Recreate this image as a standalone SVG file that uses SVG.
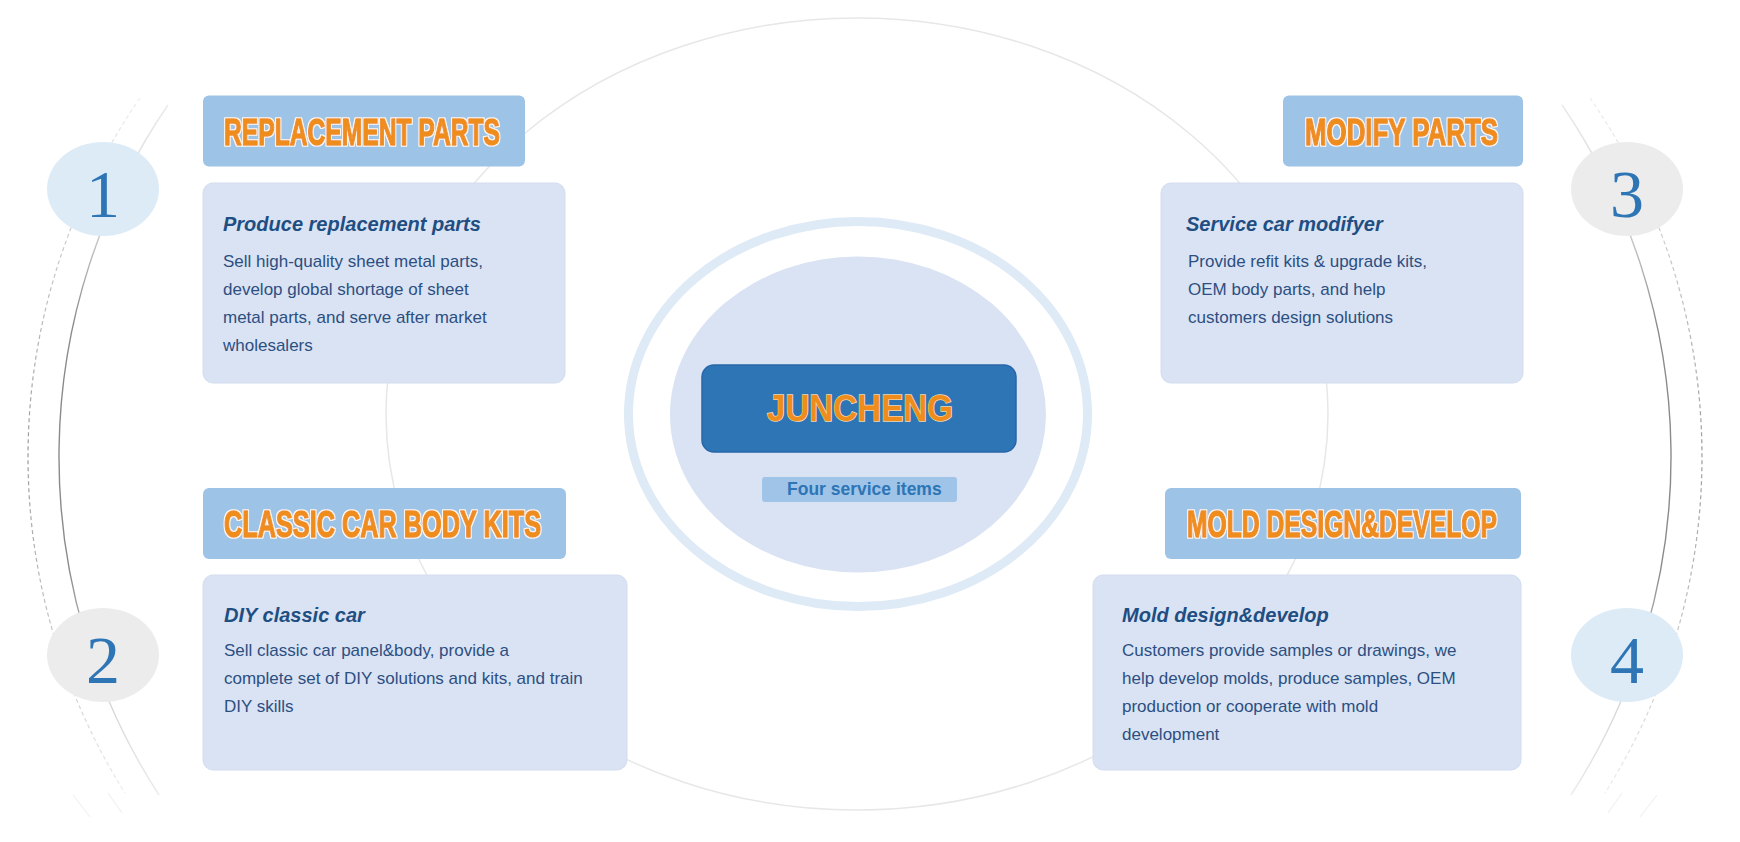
<svg xmlns="http://www.w3.org/2000/svg" width="1740" height="842" viewBox="0 0 1740 842">
<defs>
<linearGradient id="solidGrad" gradientUnits="userSpaceOnUse" x1="0" y1="95" x2="0" y2="810">
<stop offset="0" stop-color="#ececec"/>
<stop offset="0.18" stop-color="#d2d2d2"/>
<stop offset="0.32" stop-color="#8a8a8a"/>
<stop offset="0.66" stop-color="#8a8a8a"/>
<stop offset="0.82" stop-color="#cfcfcf"/>
<stop offset="1" stop-color="#efefef"/>
</linearGradient>
<linearGradient id="dashGrad" gradientUnits="userSpaceOnUse" x1="0" y1="95" x2="0" y2="810">
<stop offset="0" stop-color="#eeeeee"/>
<stop offset="0.25" stop-color="#c4c4c4"/>
<stop offset="0.5" stop-color="#9a9a9a"/>
<stop offset="0.75" stop-color="#c4c4c4"/>
<stop offset="1" stop-color="#f0f0f0"/>
</linearGradient>
<filter id="outline" x="-5%" y="-25%" width="110%" height="150%">
<feMorphology in="SourceAlpha" operator="dilate" radius="1.3" result="d"/>
<feFlood flood-color="#fff6ea"/>
<feComposite in2="d" operator="in" result="o"/>
<feMerge><feMergeNode in="o"/><feMergeNode in="SourceGraphic"/></feMerge>
</filter>
</defs>
<style>
.hdr{fill:#9dc3e6}
.card{fill:#dae3f3;stroke:#d2ddef;stroke-width:1}
.htxt{font-family:"Liberation Sans",Arial,sans-serif;font-weight:bold;font-size:37px;fill:#ef8d1c;stroke:#ef8d1c;stroke-width:1.4;stroke-linejoin:round;filter:url(#outline)}
.ttl{font-family:"Liberation Sans",Arial,sans-serif;font-weight:bold;font-style:italic;font-size:20px;fill:#1f4e82}
.body{font-family:"Liberation Sans",Arial,sans-serif;font-size:17px;fill:#2c4f82}
.num{font-family:"Liberation Serif","Times New Roman",serif;font-size:68px;fill:#2e75b6;text-anchor:middle}
.solid{fill:none;stroke:url(#solidGrad);stroke-width:1.4}
.dash{fill:none;stroke:url(#dashGrad);stroke-width:1.2;stroke-dasharray:4 3}
.faint{fill:none;stroke:#f1f1f1;stroke-width:1.2}
.blue{fill:#ddebf7}
.gray{fill:#ececec}
</style>
<rect width="1740" height="842" fill="#ffffff"/>

<g id="connectors">
<ellipse cx="857" cy="414" rx="471" ry="396" fill="none" stroke="#e7e7e7" stroke-width="1.5"/>
<path class="dash" d="M140,98 A631,631 0 0 0 125,793"/>
<path class="dash" d="M1590,98 A631,631 0 0 1 1605,793"/>
<path class="solid" d="M168,105 A622,622 0 0 0 159,795"/>
<path class="solid" d="M1562,105 A622,622 0 0 1 1571,795"/>
<path class="faint" d="M73,795 L90,817 M108,793 L122,813"/>
<path class="faint" d="M1657,795 L1640,817 M1622,793 L1608,813"/>
</g>

<g id="center">
<ellipse cx="858" cy="414" rx="229.5" ry="192.5" fill="none" stroke="#deeaf6" stroke-width="9"/>
<ellipse cx="858" cy="414.5" rx="188" ry="158" fill="#d9e3f3"/>
<rect x="702" y="365" width="314" height="87" rx="12" fill="#2e75b6" stroke="#2766a8" stroke-width="1.5"/>
<text x="860" y="421" text-anchor="middle" textLength="186" lengthAdjust="spacingAndGlyphs" style="font-family:'Liberation Sans',Arial,sans-serif;font-weight:bold;font-size:36px;fill:#ef8d1c;stroke:#f6d9b0;stroke-width:1.5;paint-order:stroke">JUNCHENG</text>
<rect x="762" y="477" width="195" height="25" rx="3" fill="#9fc4e8"/>
<text x="787" y="495" style="font-family:'Liberation Sans',Arial,sans-serif;font-weight:bold;font-size:17.5px;fill:#2e75b6">Four service items</text>
</g>

<g id="item1">
<ellipse class="blue" cx="103" cy="189" rx="56" ry="47"/>
<text class="num" x="103" y="217">1</text>
<rect class="hdr" x="203" y="95.5" width="322" height="71" rx="6"/>
<text class="htxt" x="224" y="145" textLength="276" lengthAdjust="spacingAndGlyphs">REPLACEMENT PARTS</text>
<rect class="card" x="203" y="183" width="362" height="200" rx="10"/>
<text class="ttl" x="223" y="231">Produce replacement parts</text>
<text class="body" x="223" y="267">Sell high-quality sheet metal parts,</text>
<text class="body" x="223" y="295">develop global shortage of sheet</text>
<text class="body" x="223" y="323">metal parts, and serve after market</text>
<text class="body" x="223" y="351">wholesalers</text>
</g>

<g id="item2">
<ellipse class="gray" cx="103" cy="655" rx="56" ry="47"/>
<text class="num" x="103" y="683">2</text>
<rect class="hdr" x="203" y="488" width="363" height="71" rx="6"/>
<text class="htxt" x="224" y="537" textLength="317" lengthAdjust="spacingAndGlyphs">CLASSIC CAR BODY KITS</text>
<rect class="card" x="203" y="575" width="424" height="195" rx="10"/>
<text class="ttl" x="224" y="622">DIY classic car</text>
<text class="body" x="224" y="656">Sell classic car panel&amp;body, provide a</text>
<text class="body" x="224" y="684">complete set of DIY solutions and kits, and train</text>
<text class="body" x="224" y="712">DIY skills</text>
</g>

<g id="item3">
<ellipse class="gray" cx="1627" cy="189" rx="56" ry="47"/>
<text class="num" x="1627" y="217">3</text>
<rect class="hdr" x="1283" y="95.5" width="240" height="71" rx="6"/>
<text class="htxt" x="1305" y="145" textLength="193" lengthAdjust="spacingAndGlyphs">MODIFY PARTS</text>
<rect class="card" x="1161" y="183" width="362" height="200" rx="10"/>
<text class="ttl" x="1186" y="231">Service car modifyer</text>
<text class="body" x="1188" y="267">Provide refit kits &amp; upgrade kits,</text>
<text class="body" x="1188" y="295">OEM body parts, and help</text>
<text class="body" x="1188" y="323">customers design solutions</text>
</g>

<g id="item4">
<ellipse class="blue" cx="1627" cy="655" rx="56" ry="47"/>
<text class="num" x="1627" y="683">4</text>
<rect class="hdr" x="1165" y="488" width="356" height="71" rx="6"/>
<text class="htxt" x="1187" y="537" textLength="310" lengthAdjust="spacingAndGlyphs">MOLD DESIGN&amp;DEVELOP</text>
<rect class="card" x="1093" y="575" width="428" height="195" rx="10"/>
<text class="ttl" x="1122" y="622">Mold design&amp;develop</text>
<text class="body" x="1122" y="656">Customers provide samples or drawings, we</text>
<text class="body" x="1122" y="684">help develop molds, produce samples, OEM</text>
<text class="body" x="1122" y="712">production or cooperate with mold</text>
<text class="body" x="1122" y="740">development</text>
</g>
</svg>
